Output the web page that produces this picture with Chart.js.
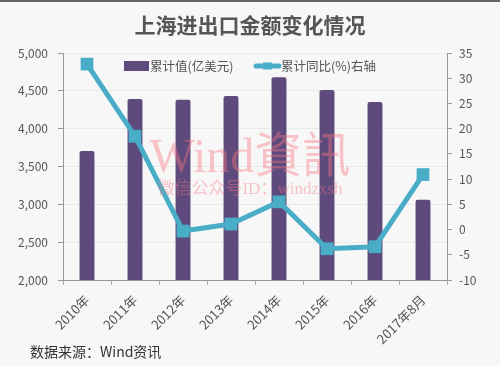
<!DOCTYPE html>
<html><head><meta charset="utf-8">
<script src="https://cdn.jsdelivr.net/npm/chart.js@4/dist/chart.umd.min.js"></script>
<style>html,body{margin:0;padding:0;background:#f7f7f7;}#wrap{width:500px;height:366px;}</style>
</head><body><div id="wrap"><canvas id="c" width="500" height="366"></canvas></div>
<script>
const categories = ['2010年','2011年','2012年','2013年','2014年','2015年','2016年','2017年8月'];
const cumulativeValue = [3705, 4392, 4382, 4432, 4679, 4511, 4352, 3061];
const yoyPercent = [32.8, 18.5, -0.3, 1.1, 5.5, -3.8, -3.4, 10.9];
const leftTicks = {min: 2000, max: 5000, step: 500};
const rightTicks = {min: -10, max: 35, step: 5};
const titleText = '上海进出口金额变化情况';
const sourceText = '数据来源：Wind资讯';
const barLabel = '累计值(亿美元)';
const lineLabel = '累计同比(%)右轴';

const FONT = "'Noto Sans CJK SC', 'Noto Sans', sans-serif";
const PURPLE = '#5e4a7c';
const TEAL = '#4aadc7';

const decor = {
  id: 'decor',
  beforeDraw(chart) {
    const ctx = chart.ctx;
    ctx.save();
    ctx.fillStyle = '#f7f7f7';
    ctx.fillRect(0, 0, chart.width, chart.height);
    ctx.fillStyle = '#666';
    ctx.fillRect(0, 0, chart.width, 2);
    ctx.restore();
  },
  afterDatasetsDraw(chart) {
    const ctx = chart.ctx;
    ctx.save();
    ctx.fillStyle = 'rgba(248,120,130,0.42)';
    ctx.textAlign = 'center';
    ctx.textBaseline = 'alphabetic';
    ctx.font = "48px 'Liberation Serif', 'Noto Sans CJK SC', serif";
    ctx.fillText('Wind資訊', 250, 172);
    ctx.font = "17px 'Liberation Serif', 'Noto Sans CJK SC', serif";
    ctx.fillText('微信公众号ID：windzxsh', 250, 194);
    ctx.restore();
  },
  afterDraw(chart) {
    const ctx = chart.ctx;
    ctx.save();
    // legend
    ctx.font = '12.5px ' + FONT;
    ctx.textBaseline = 'middle';
    ctx.textAlign = 'left';
    const ly = 66;
    const ds = chart.data.datasets;
    const bar = ds.find(d => d.type === 'bar');
    const line = ds.find(d => d.type === 'line');
    ctx.fillStyle = bar.backgroundColor;
    ctx.fillRect(124, ly - 5, 25, 10);
    ctx.fillStyle = '#555';
    ctx.fillText(bar.label, 150, ly);
    ctx.strokeStyle = line.borderColor;
    ctx.lineWidth = 5;
    ctx.lineCap = 'round';
    ctx.beginPath(); ctx.moveTo(256, ly); ctx.lineTo(279, ly); ctx.stroke();
    ctx.fillStyle = line.borderColor;
    ctx.fillRect(263, ly - 3.5, 9, 7);
    ctx.fillStyle = '#555';
    ctx.fillText(line.label, 281, ly);
    // footer
    ctx.fillStyle = '#333';
    ctx.font = '14px ' + FONT;
    ctx.fillText(sourceText, 30, 352);
    ctx.restore();
  }
};

new Chart(document.getElementById('c'), {
  data: {
    labels: categories,
    datasets: [
      {
        type: 'line', label: lineLabel, data: yoyPercent, yAxisID: 'y2', order: 0,
        borderColor: TEAL, backgroundColor: TEAL, borderWidth: 5,
        pointStyle: 'rect', pointRadius: 9, pointHoverRadius: 9,
        pointBackgroundColor: TEAL, pointBorderColor: TEAL, pointBorderWidth: 0,
        tension: 0
      },
      {
        type: 'bar', label: barLabel, data: cumulativeValue, yAxisID: 'y', order: 1,
        backgroundColor: PURPLE, borderColor: PURPLE, borderWidth: 0,
        barPercentage: 0.31, categoryPercentage: 1.0, borderRadius: 2, borderSkipped: 'bottom'
      }
    ]
  },
  options: {
    responsive: false,
    animation: false,
    devicePixelRatio: 1,
    layout: {padding: {top: 0, left: 0, right: 0, bottom: 0}},
    plugins: {
      title: {
        display: true, text: titleText, color: '#555',
        font: {family: FONT, size: 21, weight: 'bold'},
        padding: {top: 12, bottom: 15.8}
      },
      legend: {display: false},
      tooltip: {enabled: false}
    },
    scales: {
      x: {
        type: 'category', offset: true,
        grid: {display: true, drawOnChartArea: false, drawTicks: true, tickLength: 5, color: '#aaa', offset: true},
        border: {display: true, color: '#999'},
        ticks: {color: '#555', font: {family: FONT, size: 13}, minRotation: 45, maxRotation: 45, padding: 7},
        afterFit(s) { s.height = 86; }
      },
      y: {
        position: 'left', min: leftTicks.min, max: leftTicks.max,
        ticks: {stepSize: leftTicks.step, color: '#555', font: {family: FONT, size: 12}, padding: 10},
        grid: {color: '#eaeaea', tickColor: '#999', tickLength: 5, drawTicks: true},
        border: {display: true, color: '#999'},
        afterFit(s) { s.width = 63; }
      },
      y2: {
        position: 'right', min: rightTicks.min, max: rightTicks.max,
        ticks: {stepSize: rightTicks.step, color: '#555', font: {family: FONT, size: 12}, padding: 7},
        grid: {drawOnChartArea: false, tickColor: '#999', tickLength: 5, drawTicks: true},
        border: {display: true, color: '#999'},
        afterFit(s) { s.width = 53; }
      }
    }
  },
  plugins: [decor]
});
</script>
</body></html>
